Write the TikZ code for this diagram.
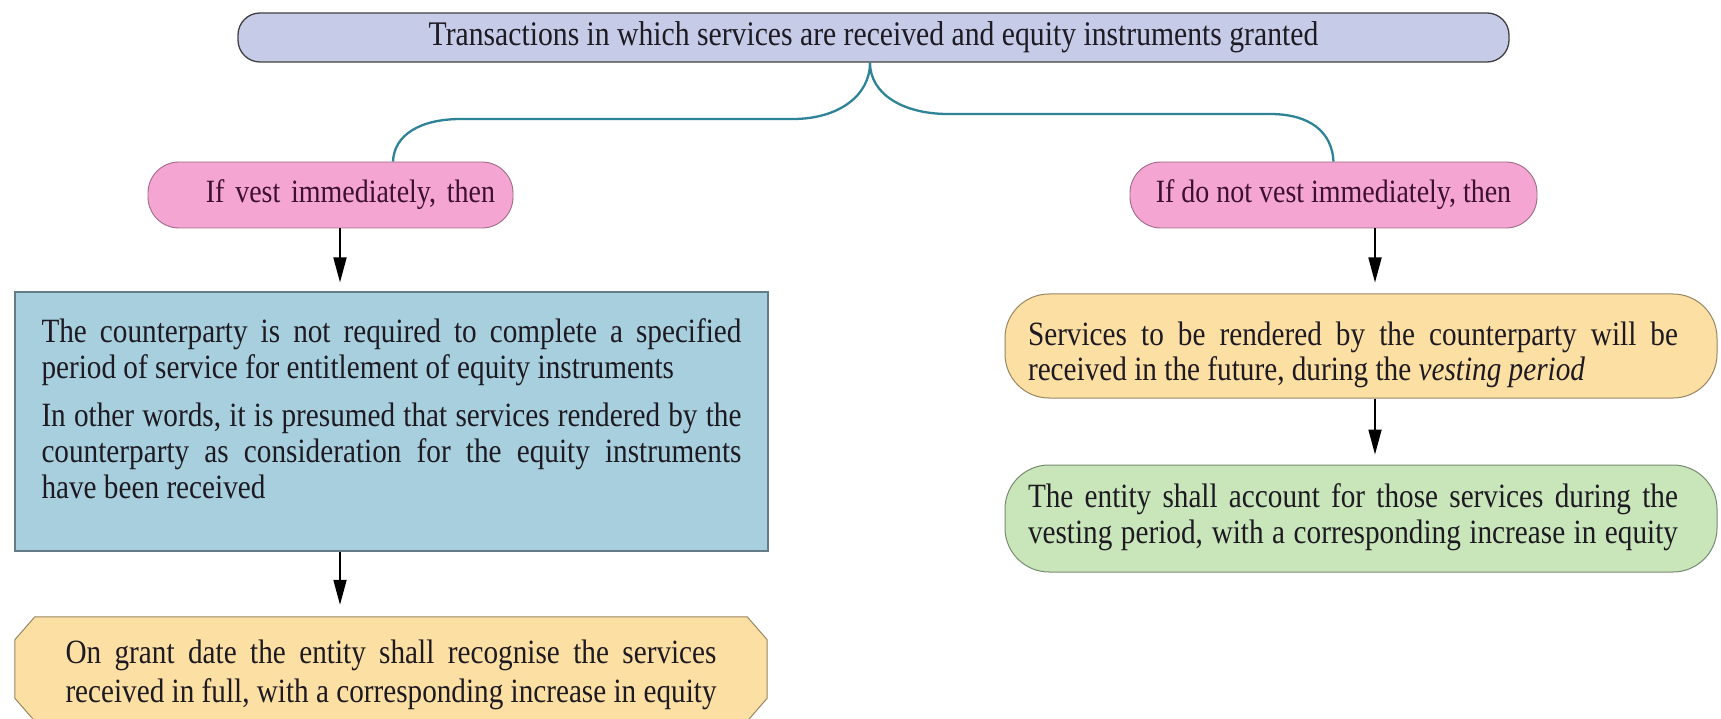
\documentclass[tikz,border=0pt]{standalone}
\usepackage{graphicx}
\usepackage{fontspec}
\setmainfont{Liberation Serif}[FakeStretch=0.86]
\usetikzlibrary{arrows.meta,backgrounds}

\definecolor{topfill}{HTML}{C6CBE8}
\definecolor{pinkfill}{HTML}{F4A5D2}
\definecolor{bluefill}{HTML}{A7CFDD}
\definecolor{yellowfill}{HTML}{FCDFA3}
\definecolor{greenfill}{HTML}{C9E6BA}
\definecolor{bracecol}{HTML}{2E8397}
\definecolor{inkcol}{HTML}{1E1A22}
\definecolor{pinkink}{HTML}{3E1030}

% a justified line of a given width: spread when short, squeezed when too long
\newlength{\natwd}
\newcommand{\spreadline}[2]{\settowidth{\natwd}{#2}%
  \ifdim\natwd>#1\relax\resizebox{#1}{\height}{#2}\else\makebox[#1][s]{#2}\fi}

\begin{document}
\begin{tikzpicture}[x=1pt,y=1pt,
  every node/.style={font=\fontsize{34}{36}\selectfont, text=inkcol, inner sep=0pt},
  topbox/.style={draw=black!75, line width=1.3pt, fill=topfill, rounded corners=22pt,
    minimum width=1271pt, minimum height=49pt, font=\fontsize{34.5}{36}\selectfont},
  pinkbox/.style={draw=pinkfill!65!black, line width=0.9pt, fill=pinkfill,
    rounded corners=31pt, minimum height=66pt, text=pinkink,
    font=\fontsize{32.5}{36}\selectfont},
  bluebox/.style={draw=bluefill!60!black, line width=1.2pt, fill=bluefill,
    minimum width=753pt, minimum height=259pt},
  octnode/.style={minimum width=752pt, minimum height=104pt},
  octline/.style={draw=yellowfill!60!black, line width=1pt, fill=yellowfill},
  pillbox/.style={draw=#1!60!black, line width=1pt, fill=#1, rounded corners=44pt,
    minimum width=712pt},
  brace/.style={draw=bracecol, line width=2.3pt},
  arr/.style={draw=black, line width=1.8pt, -{Triangle[length=25pt,width=13pt]}}
]
\useasboundingbox (0,0) rectangle (1721,-719);

% heading
\node[topbox] (top) at (873.5,-37.5)
  {Transactions in which services are received and equity instruments granted};

% the two cases
\node[pinkbox, minimum width=365pt, text width=329pt, align=right] (pl) at (330.5,-195)
  {If vest immediately, then};
\node[pinkbox, minimum width=407pt] (pr) at (1333.5,-195)
  {If do not vest immediately, then};

% brace from the heading to the two cases
\draw[brace] ([xshift=-3.5pt]top.south) .. controls (870,-96) and (838,-119) .. (793,-119)
  -- (461,-119) .. controls (420,-119) and (394,-135) .. ([xshift=62.5pt]pl.north);
\draw[brace] ([xshift=-3.5pt]top.south) .. controls (870,-94) and (903,-114) .. (948,-114)
  -- (1270,-114) .. controls (1310,-114) and (1332,-132) .. (pr.north);

% left column
\node[bluebox] (blue) at (391.5,-421.5)
  {\parbox[c][259pt][t]{700pt}{\vspace*{24.8pt}%
   \spreadline{700pt}{\strut The counterparty is not required to complete a specified}\\
   period of service for entitlement of equity instruments\par
   \vspace{12pt}%
   \spreadline{700pt}{In other words, it is presumed that services rendered by the}\\
   \spreadline{700pt}{counterparty as consideration for the equity instruments}\\
   have been received}};

\node[octnode] (oct) at (391,-669)
  {\parbox[c][104pt][t]{651pt}{\fontsize{34}{39}\selectfont\vspace*{18.7pt}%
   \spreadline{651pt}{\strut On grant date the entity shall recognise the services}\\
   \spreadline{651pt}{received in full, with a corresponding increase in equity}}};
\begin{scope}[on background layer]
  \path[octline] ([xshift=20pt]oct.north west) -- ([xshift=-20pt]oct.north east)
    -- ([yshift=-23pt]oct.north east) -- ([yshift=23pt]oct.south east)
    -- ([xshift=-20pt]oct.south east) -- ([xshift=20pt]oct.south west)
    -- ([yshift=23pt]oct.south west) -- ([yshift=-23pt]oct.north west) -- cycle;
\end{scope}

% right column
\node[pillbox=yellowfill, minimum height=104pt] (ry) at (1361,-346)
  {\parbox[c][104pt][t]{666pt}{\fontsize{34}{34}\selectfont\vspace*{27.2pt}%
   \spreadline{650pt}{\strut Services to be rendered by the counterparty will be}\\
   received in the future, during the \textit{vesting period}}};

\node[pillbox=greenfill, minimum height=107pt] (gb) at (1361,-518.5)
  {\parbox[c][107pt][t]{666pt}{\vspace*{16.8pt}%
   \spreadline{650pt}{\strut The entity shall account for those services during the}\\
   \spreadline{650pt}{vesting period, with a corresponding increase in equity}}};

% arrows
\draw[arr, shorten >=9pt] ([xshift=9.5pt]pl.south) -- ([xshift=-51.5pt]blue.north);
\draw[arr, shorten >=12pt] ([xshift=-51.5pt]blue.south) -- ([xshift=-51pt]oct.north);
\draw[arr, shorten >=11pt] ([xshift=41.5pt]pr.south) -- ([xshift=14pt]ry.north);
\draw[arr, shorten >=10pt] ([xshift=14pt]ry.south) -- ([xshift=14pt]gb.north);
\end{tikzpicture}
\end{document}
